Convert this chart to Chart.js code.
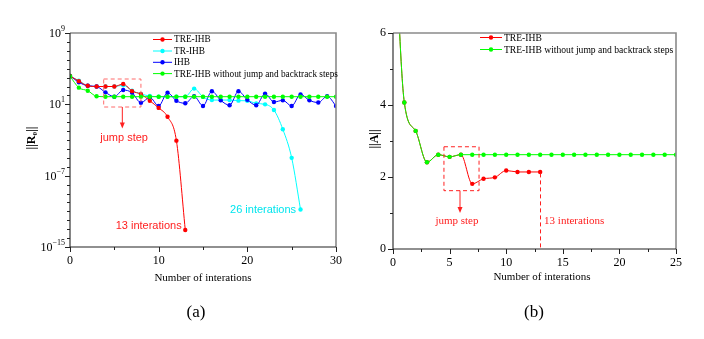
<!DOCTYPE html>
<html><head><meta charset="utf-8">
<script src="https://cdn.jsdelivr.net/npm/chart.js@4.4.1/dist/chart.umd.min.js"></script>
<style>
html,body{margin:0;padding:0;background:#fff;}
#wrap{position:relative;width:704px;height:339px;overflow:hidden;}
canvas{position:absolute;top:0;}
</style></head><body>
<div id="wrap">
<canvas id="ca" width="352" height="339" style="left:0"></canvas>
<canvas id="cb" width="352" height="339" style="left:352px"></canvas>
</div>
<script>
// ---------- Panel (a) data ----------
const iterA = [0,1,2,3,4,5,6,7,8,9,10,11,12,13,14,15,16,17,18,19,20,21,22,23,24,25,26,27,28,29,30];
const treIhbA = [1.5e4,4.0e3,1.2e3,1.0e3,1.0e3,1.0e3,1.9e3,3.0e2,1.4e2,25,4,0.4,8.5e-4,8e-14];
const trIhbA = [1.5e4,4.5e3,1.2e3,1.0e3,1.0e3,1.0e3,1.4e3,3.4e2,1.45e2,85,72,72,72,72,5.8e2,68,30,30,30,26,25,12.6,10,2.3,1.6e-2,1e-5,1.6e-11];
const ihbA = [1.5e4,3.0e3,1.2e3,1.0e3,2.2e2,72,4.0e2,2.0e2,15,60,6.6,2.0e2,25,13,80,6.6,2.9e2,28,8,2.9e2,32,8,1.6e2,18,28,6.6,1.3e2,28,16,80,6.6];
const noJumpA = [1.4e4,7.4e2,3.4e2,80,72,72,72,72,72,72,72,72,72,72,72,72,72,72,72,72,72,72,72,72,72,72,72,72,72,72,72];
const seriesNamesA = ['TRE-IHB','TR-IHB','IHB','TRE-IHB without jump and backtrack steps'];
const yTickValuesA = [1e9,1e1,1e-7,1e-15];
const yTickExpA = ['9','1','\u22127','\u221215'];
const xTickLabelsA = [0,10,20,30];

// ---------- Panel (b) data ----------
const iterB = [0,1,2,3,4,5,6,7,8,9,10,11,12,13,14,15,16,17,18,19,20,21,22,23,24,25];
const treIhbB = [10,4.07,3.28,2.41,2.62,2.56,2.62,1.81,1.95,1.99,2.18,2.14,2.14,2.14];
const noJumpB = [10,4.07,3.28,2.41,2.62,2.56,2.62,2.62,2.62,2.62,2.62,2.62,2.62,2.62,2.62,2.62,2.62,2.62,2.62,2.62,2.62,2.62,2.62,2.62,2.62,2.62];
const seriesNamesB = ['TRE-IHB','TRE-IHB without jump and backtrack steps'];

const RED='#ff0000', CYAN='#00ffff', BLUE='#0000ff', GREEN='#00ff00';
const SERIF='"Liberation Serif","Times New Roman",serif';
const SANS='"Liberation Sans",Arial,sans-serif';

function pts(xs, ys){ return ys.map((v,i)=>({x:xs[i], y:v})); }
function ds(label, xs, ys, color, order){
  return {label, data:pts(xs,ys), borderColor:color, backgroundColor:color, order,
    borderWidth:1, pointRadius:2.2, pointBorderWidth:0, pointHoverRadius:2.2,
    cubicInterpolationMode:'monotone', clip:true};
}

function drawFrame(ctx,a){
  ctx.save();
  ctx.strokeStyle='#8a8a8a'; ctx.lineWidth=1.6;
  ctx.beginPath(); ctx.moveTo(a.left,a.top); ctx.lineTo(a.right,a.top); ctx.lineTo(a.right,a.bottom); ctx.stroke();
  ctx.strokeStyle='#222'; ctx.lineWidth=1.1;
  ctx.beginPath(); ctx.moveTo(a.left,a.top); ctx.lineTo(a.left,a.bottom); ctx.lineTo(a.right,a.bottom); ctx.stroke();
  ctx.restore();
}
function xTick(ctx,sx,a,v,len){
  const p=Math.round(sx.getPixelForValue(v))+0.5;
  ctx.beginPath(); ctx.moveTo(p,a.bottom); ctx.lineTo(p,a.bottom+len); ctx.stroke();
}
function yTick(ctx,sy,a,v,len){
  const p=Math.round(sy.getPixelForValue(v))+0.5;
  ctx.beginPath(); ctx.moveTo(a.left,p); ctx.lineTo(a.left-len,p); ctx.stroke();
}
function legendEntry(ctx,x0,x1,y,color,text,size){
  ctx.save();
  ctx.strokeStyle=color; ctx.lineWidth=1;
  ctx.beginPath(); ctx.moveTo(x0,y); ctx.lineTo(x1,y); ctx.stroke();
  ctx.fillStyle=color; ctx.beginPath(); ctx.arc((x0+x1)/2,y,2.2,0,Math.PI*2); ctx.fill();
  ctx.fillStyle='#000'; ctx.font=size+'px '+SERIF; ctx.textAlign='left'; ctx.textBaseline='middle';
  ctx.fillText(text,x1+2,y+0.5);
  ctx.restore();
}
function dashedRect(ctx,x0,y0,x1,y1,color){
  ctx.save(); ctx.strokeStyle=color; ctx.lineWidth=1; ctx.setLineDash([4,3]);
  ctx.strokeRect(x0,y0,x1-x0,y1-y0); ctx.restore();
}
function arrowDown(ctx,x,y0,y1,color){
  ctx.save(); ctx.strokeStyle=color; ctx.fillStyle=color; ctx.lineWidth=1;
  ctx.beginPath(); ctx.moveTo(x,y0); ctx.lineTo(x,y1-5); ctx.stroke();
  ctx.beginPath(); ctx.moveTo(x-2.5,y1-6); ctx.lineTo(x+2.5,y1-6); ctx.lineTo(x,y1); ctx.closePath(); ctx.fill();
  ctx.restore();
}
function text(ctx,t,x,y,font,color,align,rot){
  ctx.save(); ctx.font=font; ctx.fillStyle=color; ctx.textAlign=align||'center'; ctx.textBaseline='middle';
  if(rot){ ctx.translate(x,y); ctx.rotate(rot); ctx.fillText(t,0,0);} else ctx.fillText(t,x,y);
  ctx.restore();
}

const extrasA = {
  id:'extrasA',
  afterDatasetsDraw(chart){
    const ctx=chart.ctx, a=chart.chartArea, sx=chart.scales.x, sy=chart.scales.y;
    drawFrame(ctx,a);
    ctx.save(); ctx.strokeStyle='#222'; ctx.lineWidth=1;
    for(let v=0; v<=30; v+=5) xTick(ctx,sx,a,v, v%10===0?5:3);
    for(let e=-15; e<=9; e++) yTick(ctx,sy,a,Math.pow(10,e), ((e-1)%8===0)?5:3);
    ctx.restore();
    // y tick labels with superscripts
    ctx.save(); ctx.fillStyle='#000'; ctx.textBaseline='middle'; ctx.textAlign='right';
    yTickValuesA.forEach((v,i)=>{
      const py=sy.getPixelForValue(v);
      ctx.font='8px '+SERIF; const ew=ctx.measureText(yTickExpA[i]).width;
      ctx.fillText(yTickExpA[i], a.left-5, py-4);
      ctx.font='12px '+SERIF; ctx.fillText('10', a.left-5-ew, py+1);
    });
    ctx.restore();
    // legend
    const cols=[RED,CYAN,BLUE,GREEN];
    [39.5,51,62.3,73.6].forEach((y,i)=>legendEntry(ctx,153,172,y,cols[i],seriesNamesA[i],9.3));
    // annotations
    const x0=sx.getPixelForValue(3.8), x1=sx.getPixelForValue(8);
    const y0=sy.getPixelForValue(Math.pow(10,3.84)), y1=sy.getPixelForValue(Math.pow(10,0.7));
    dashedRect(ctx,x0,y0,x1,y1,'#ff6a6a');
    const xm=sx.getPixelForValue(5.9);
    arrowDown(ctx,xm,y1,sy.getPixelForValue(Math.pow(10,-1.7)),'#ff2020');
    text(ctx,'jump step',sx.getPixelForValue(6.1),sy.getPixelForValue(Math.pow(10,-2.8)),'11px '+SANS,'#ff2020','center');
    text(ctx,'13 interations',sx.getPixelForValue(12.6),sy.getPixelForValue(Math.pow(10,-12.6)),'11px '+SANS,'#ff2020','right');
    text(ctx,'26 interations',sx.getPixelForValue(25.5),sy.getPixelForValue(Math.pow(10,-10.84)),'11px '+SANS,'#00e5ee','right');
    // titles
    text(ctx,'Number of interations',(a.left+a.right)/2,278,'11px '+SERIF,'#000','center');
    text(ctx,'||R\u2080||',32,138,'bold 12px '+SERIF,'#000','center',-Math.PI/2);
    text(ctx,'(a)',196,313,'17px '+SERIF,'#000','center');
  }
};

const extrasB = {
  id:'extrasB',
  afterDatasetsDraw(chart){
    const ctx=chart.ctx, a=chart.chartArea, sx=chart.scales.x, sy=chart.scales.y;
    drawFrame(ctx,a);
    ctx.save(); ctx.strokeStyle='#222'; ctx.lineWidth=1;
    for(let v=0; v<=25; v+=2.5) xTick(ctx,sx,a,v, (v%5===0)?5:3);
    for(let v=0; v<=6; v+=1) yTick(ctx,sy,a,v, (v%2===0)?5:3);
    ctx.restore();
    legendEntry(ctx,128,150,37.5,RED,seriesNamesB[0],9.6);
    legendEntry(ctx,128,150,49.5,GREEN,seriesNamesB[1],9.6);
    const x0=sx.getPixelForValue(4.5), x1=sx.getPixelForValue(7.6);
    const y0=sy.getPixelForValue(2.84), y1=sy.getPixelForValue(1.62);
    dashedRect(ctx,x0,y0,x1,y1,'#ff2020');
    arrowDown(ctx,sx.getPixelForValue(5.92),y1,sy.getPixelForValue(1.0),'#ff2020');
    text(ctx,'jump step',sx.getPixelForValue(5.65),sy.getPixelForValue(0.78),'11px '+SERIF,'#ff2020','center');
    // vertical dashed line at 13 iterations
    ctx.save(); ctx.strokeStyle='#ff2020'; ctx.lineWidth=1; ctx.setLineDash([4,3]);
    const xv=Math.round(sx.getPixelForValue(13))+0.5;
    ctx.beginPath(); ctx.moveTo(xv,sy.getPixelForValue(2.1)); ctx.lineTo(xv,a.bottom); ctx.stroke(); ctx.restore();
    text(ctx,'13 interations',sx.getPixelForValue(13.35),sy.getPixelForValue(0.78),'11px '+SERIF,'#ff2020','left');
    text(ctx,'Number of interations',542-352,277,'11px '+SERIF,'#000','center');
    text(ctx,'||A||',375-352,139,'bold 12px '+SERIF,'#000','center',-Math.PI/2);
    text(ctx,'(b)',534-352,313,'17px '+SERIF,'#000','center');
  }
};

const common = {
  responsive:false, animation:false, events:[],
  plugins:{legend:{display:false}, tooltip:{enabled:false}},
};

new Chart(document.getElementById('ca'), {
  type:'line',
  data:{datasets:[
    ds(seriesNamesA[0], iterA, treIhbA, RED, 1),
    ds(seriesNamesA[1], iterA, trIhbA, CYAN, 3),
    ds(seriesNamesA[2], iterA, ihbA, BLUE, 2),
    ds(seriesNamesA[3], iterA, noJumpA, GREEN, 0)
  ]},
  options:Object.assign({}, common, {
    layout:{padding:{top:33,right:16,bottom:72,left:0}},
    scales:{
      x:{type:'linear', min:0, max:30,
         grid:{display:false, drawTicks:false}, border:{display:false},
         ticks:{stepSize:10, color:'#000', padding:7, maxRotation:0, font:{family:SERIF, size:12},
                callback:(v)=> xTickLabelsA.includes(v) ? String(v) : ''},
         afterFit:(s)=>{s.height=20;}},
      y:{type:'logarithmic', min:1e-15, max:1e9,
         grid:{display:false, drawTicks:false}, border:{display:false},
         ticks:{display:false},
         afterFit:(s)=>{s.width=70;}}
    }
  }),
  plugins:[extrasA]
});

new Chart(document.getElementById('cb'), {
  type:'line',
  data:{datasets:[
    ds(seriesNamesB[0], iterB, treIhbB, RED, 1),
    ds(seriesNamesB[1], iterB, noJumpB, GREEN, 0)
  ]},
  options:Object.assign({}, common, {
    layout:{padding:{top:33,right:28,bottom:70,left:0}},
    scales:{
      x:{type:'linear', min:0, max:25,
         grid:{display:false, drawTicks:false}, border:{display:false},
         ticks:{stepSize:5, color:'#000', padding:7, maxRotation:0, font:{family:SERIF, size:12}},
         afterFit:(s)=>{s.height=20;}},
      y:{type:'linear', min:0, max:6,
         grid:{display:false, drawTicks:false}, border:{display:false},
         ticks:{stepSize:2, color:'#000', padding:7, font:{family:SERIF, size:12}},
         afterFit:(s)=>{s.width=41;}}
    }
  }),
  plugins:[extrasB]
});
</script>
</body></html>
